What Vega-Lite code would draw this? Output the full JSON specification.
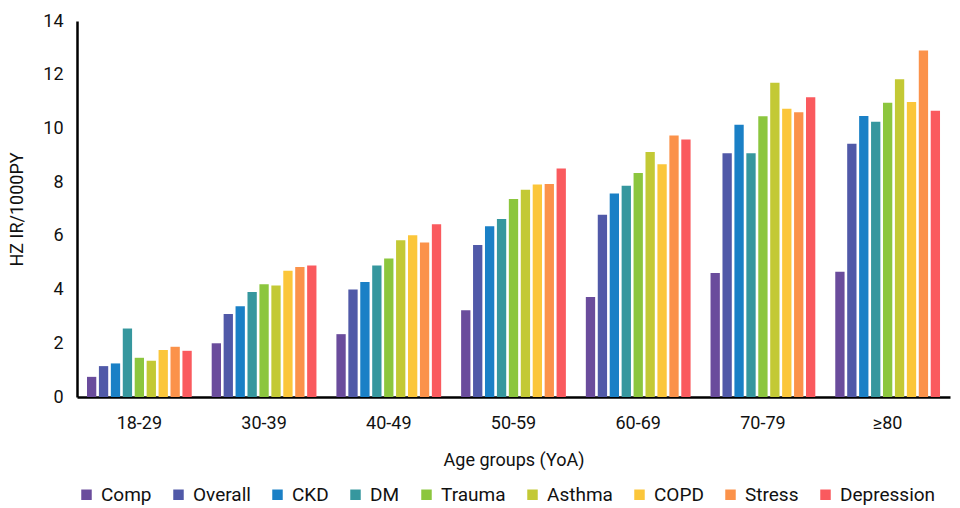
{
  "$schema": "https://vega.github.io/schema/vega-lite/v6.json",
  "width": 960,
  "height": 508,
  "autosize": {"type": "fit", "contains": "padding"},
  "padding": {"left": 8, "right": 10, "top": 12, "bottom": 3},
  "background": "white",
  "data": {
    "values": [
      {"age": "18-29", "group": "Comp", "v": 0.75},
      {"age": "18-29", "group": "Overall", "v": 1.15},
      {"age": "18-29", "group": "CKD", "v": 1.25},
      {"age": "18-29", "group": "DM", "v": 2.55},
      {"age": "18-29", "group": "Trauma", "v": 1.46},
      {"age": "18-29", "group": "Asthma", "v": 1.35},
      {"age": "18-29", "group": "COPD", "v": 1.75},
      {"age": "18-29", "group": "Stress", "v": 1.87},
      {"age": "18-29", "group": "Depression", "v": 1.72},
      {"age": "30-39", "group": "Comp", "v": 2.0},
      {"age": "30-39", "group": "Overall", "v": 3.09},
      {"age": "30-39", "group": "CKD", "v": 3.38},
      {"age": "30-39", "group": "DM", "v": 3.91},
      {"age": "30-39", "group": "Trauma", "v": 4.2},
      {"age": "30-39", "group": "Asthma", "v": 4.15},
      {"age": "30-39", "group": "COPD", "v": 4.7},
      {"age": "30-39", "group": "Stress", "v": 4.84},
      {"age": "30-39", "group": "Depression", "v": 4.9},
      {"age": "40-49", "group": "Comp", "v": 2.34},
      {"age": "40-49", "group": "Overall", "v": 4.0},
      {"age": "40-49", "group": "CKD", "v": 4.28},
      {"age": "40-49", "group": "DM", "v": 4.9},
      {"age": "40-49", "group": "Trauma", "v": 5.16},
      {"age": "40-49", "group": "Asthma", "v": 5.84},
      {"age": "40-49", "group": "COPD", "v": 6.02},
      {"age": "40-49", "group": "Stress", "v": 5.75},
      {"age": "40-49", "group": "Depression", "v": 6.43},
      {"age": "50-59", "group": "Comp", "v": 3.23},
      {"age": "50-59", "group": "Overall", "v": 5.66},
      {"age": "50-59", "group": "CKD", "v": 6.36},
      {"age": "50-59", "group": "DM", "v": 6.63},
      {"age": "50-59", "group": "Trauma", "v": 7.37},
      {"age": "50-59", "group": "Asthma", "v": 7.72},
      {"age": "50-59", "group": "COPD", "v": 7.91},
      {"age": "50-59", "group": "Stress", "v": 7.93},
      {"age": "50-59", "group": "Depression", "v": 8.51},
      {"age": "60-69", "group": "Comp", "v": 3.72},
      {"age": "60-69", "group": "Overall", "v": 6.79},
      {"age": "60-69", "group": "CKD", "v": 7.58},
      {"age": "60-69", "group": "DM", "v": 7.87},
      {"age": "60-69", "group": "Trauma", "v": 8.34},
      {"age": "60-69", "group": "Asthma", "v": 9.12},
      {"age": "60-69", "group": "COPD", "v": 8.67},
      {"age": "60-69", "group": "Stress", "v": 9.74},
      {"age": "60-69", "group": "Depression", "v": 9.59},
      {"age": "70-79", "group": "Comp", "v": 4.62},
      {"age": "70-79", "group": "Overall", "v": 9.08},
      {"age": "70-79", "group": "CKD", "v": 10.14},
      {"age": "70-79", "group": "DM", "v": 9.08},
      {"age": "70-79", "group": "Trauma", "v": 10.45},
      {"age": "70-79", "group": "Asthma", "v": 11.7},
      {"age": "70-79", "group": "COPD", "v": 10.73},
      {"age": "70-79", "group": "Stress", "v": 10.6},
      {"age": "70-79", "group": "Depression", "v": 11.16},
      {"age": "≥80", "group": "Comp", "v": 4.66},
      {"age": "≥80", "group": "Overall", "v": 9.43},
      {"age": "≥80", "group": "CKD", "v": 10.46},
      {"age": "≥80", "group": "DM", "v": 10.25},
      {"age": "≥80", "group": "Trauma", "v": 10.96},
      {"age": "≥80", "group": "Asthma", "v": 11.83},
      {"age": "≥80", "group": "COPD", "v": 10.98},
      {"age": "≥80", "group": "Stress", "v": 12.9},
      {"age": "≥80", "group": "Depression", "v": 10.66}
    ]
  },
  "mark": {"type": "bar"},
  "encoding": {
    "x": {
      "field": "age",
      "type": "nominal",
      "sort": null,
      "scale": {"paddingInner": 0.16, "paddingOuter": 0.08},
      "axis": {
        "title": "Age groups (YoA)",
        "labelAngle": 0,
        "labelFontSize": 18,
        "labelPadding": 17,
        "titleFontSize": 18,
        "titleFontWeight": "normal",
        "titlePadding": 19,
        "ticks": false,
        "domainColor": "black",
        "domainWidth": 2.5
      }
    },
    "xOffset": {
      "field": "group",
      "type": "nominal",
      "sort": ["Comp", "Overall", "CKD", "DM", "Trauma", "Asthma", "COPD", "Stress", "Depression"],
      "scale": {"paddingInner": 0.22}
    },
    "y": {
      "field": "v",
      "type": "quantitative",
      "scale": {"domain": [0, 14]},
      "axis": {
        "title": "HZ IR/1000PY",
        "values": [0, 2, 4, 6, 8, 10, 12, 14],
        "grid": false,
        "ticks": false,
        "labelFontSize": 18,
        "labelPadding": 14,
        "titleFontSize": 18,
        "titleFontWeight": "normal",
        "titlePadding": 16,
        "domainColor": "black",
        "domainWidth": 2.5
      }
    },
    "color": {
      "field": "group",
      "type": "nominal",
      "sort": ["Comp", "Overall", "CKD", "DM", "Trauma", "Asthma", "COPD", "Stress", "Depression"],
      "scale": {
        "domain": ["Comp", "Overall", "CKD", "DM", "Trauma", "Asthma", "COPD", "Stress", "Depression"],
        "range": ["#6a4c9c", "#5059a8", "#1a80c6", "#36979e", "#8cc63e", "#c3c935", "#fbc63a", "#fb924a", "#fa5a5e"]
      },
      "legend": {
        "title": null,
        "orient": "bottom",
        "direction": "horizontal",
        "symbolType": "square",
        "symbolSize": 110,
        "symbolStrokeWidth": 0,
        "labelFontSize": 19,
        "labelOffset": 5,
        "columnPadding": 17,
        "offset": 16,
        "padding": {"left": 14}
      }
    }
  },
  "config": {
    "font": "Roboto",
    "axis": {"labelColor": "#111", "titleColor": "#111"},
    "legend": {"labelColor": "#111"},
    "view": {"stroke": null}
  }
}
